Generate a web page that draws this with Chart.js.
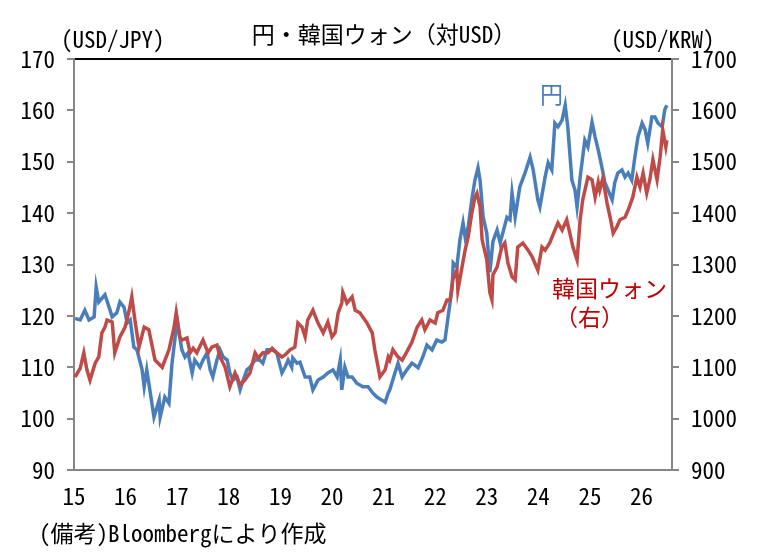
<!DOCTYPE html>
<html lang="ja">
<head>
<meta charset="utf-8">
<script src="https://cdn.jsdelivr.net/npm/chart.js@4.4.1/dist/chart.umd.min.js"></script>
<style>
  html, body { margin: 0; padding: 0; background: #fff; }
  #wrap { position: relative; width: 761px; height: 560px; overflow: hidden; }
  canvas { position: absolute; left: 0; top: 0; }
  .t { position: absolute; white-space: nowrap; line-height: 1; transform: translateY(-50%);
       font-family: "Noto Sans Mono CJK JP", "Noto Sans CJK JP", sans-serif; font-size: 23px; color: #000; }
</style>
</head>
<body>
<div id="wrap">
  <canvas id="c" width="761" height="560"></canvas>
  <div class="t" id="title" style="left:384px; top:33px; transform:translate(-50%,-50%);">円・韓国ウォン（対USD）</div>
  <div class="t" style="left:61px; top:38px;">(USD/JPY)</div>
  <div class="t" style="left:611px; top:38px;">(USD/KRW)</div>
  <div class="t" style="left:540px; top:93px; color:#4a7ebb;">円</div>
  <div class="t" style="left:552px; top:287px; color:#c00000;">韓国ウォン</div>
  <div class="t" style="left:555px; top:316px; color:#c00000;">（右）</div>
  <div class="t" style="left:39px; top:532px;">(備考)Bloombergにより作成</div>
</div>
<script>
// ---- data (x = year, 2-digit, fractional) ----
const jpyDates = [15.02,15.12,15.21,15.29,15.39,15.43,15.48,15.60,15.68,15.74,15.83,15.89,15.97,16.03,16.09,16.16,16.22,16.32,16.36,16.41,16.51,16.55,16.65,16.67,16.76,16.84,16.90,16.96,17.00,17.05,17.09,17.15,17.21,17.29,17.34,17.44,17.50,17.58,17.64,17.69,17.77,17.83,17.89,17.97,18.02,18.08,18.16,18.22,18.28,18.35,18.41,18.51,18.60,18.66,18.74,18.84,18.93,19.03,19.09,19.15,19.22,19.24,19.32,19.38,19.48,19.57,19.63,19.73,19.83,19.92,20.02,20.10,20.16,20.19,20.25,20.31,20.39,20.48,20.60,20.70,20.79,20.87,20.97,21.03,21.09,21.12,21.22,21.28,21.36,21.45,21.55,21.67,21.76,21.84,21.94,22.03,22.13,22.19,22.25,22.33,22.35,22.42,22.48,22.54,22.58,22.64,22.71,22.77,22.83,22.87,22.93,23.00,23.06,23.12,23.20,23.26,23.31,23.39,23.45,23.49,23.55,23.64,23.74,23.84,23.90,23.99,24.03,24.13,24.19,24.26,24.32,24.38,24.46,24.52,24.57,24.65,24.71,24.75,24.81,24.90,24.96,25.04,25.10,25.16,25.23,25.29,25.35,25.43,25.48,25.54,25.62,25.68,25.74,25.81,25.87,25.93,26.01,26.07,26.12,26.20,26.26,26.32,26.40,26.45,26.49];
const jpyValues = [119.5,119.2,121.1,119.2,119.8,125.6,122.7,124.1,121.7,119.8,120.6,122.7,121.7,118.6,119.2,113.9,113.4,109.5,106.2,109.5,103.0,100.3,103.6,100.3,104.2,103.0,110.8,115.9,119.2,115.9,113.4,112.0,112.8,108.9,111.4,110.0,111.4,112.8,109.5,108.1,111.4,113.4,112.0,111.4,108.9,107.5,108.1,105.6,107.5,109.5,110.0,111.4,111.4,110.8,113.4,113.4,112.8,108.9,110.0,111.4,110.0,111.8,110.8,111.0,108.1,108.1,105.6,107.5,108.1,108.9,109.5,108.1,111.4,105.6,110.0,108.1,108.1,106.9,106.2,106.2,105.0,104.2,103.6,103.2,105.0,105.6,108.9,110.8,108.1,109.5,110.8,109.9,112.0,114.3,113.4,115.3,114.9,115.3,119.8,125.6,130.3,129.5,134.8,138.1,135.4,137.3,142.6,146.4,148.8,146.4,139.2,136.1,128.5,134.5,136.7,134.2,136.1,139.2,138.7,143.9,139.2,145.1,147.8,150.9,148.4,142.6,141.2,147.0,149.8,148.4,157.5,156.8,158.1,161.0,156.8,146.4,144.5,141.2,147.0,154.2,152.9,157.7,154.8,152.3,149.0,145.9,144.5,142.6,145.9,147.8,148.4,147.0,147.8,146.4,150.9,154.8,157.5,156.2,153.6,158.7,158.7,157.5,156.8,160.1,161.0];

const krwDates = [15.02,15.12,15.19,15.25,15.31,15.41,15.48,15.54,15.60,15.64,15.74,15.79,15.89,15.99,16.07,16.12,16.18,16.26,16.36,16.45,16.57,16.71,16.84,16.94,16.98,17.05,17.09,17.19,17.25,17.31,17.38,17.50,17.60,17.67,17.77,17.83,17.93,18.02,18.12,18.22,18.31,18.41,18.51,18.57,18.66,18.76,18.84,18.93,19.03,19.09,19.19,19.28,19.34,19.42,19.48,19.53,19.63,19.73,19.83,19.92,20.00,20.06,20.12,20.19,20.21,20.29,20.39,20.45,20.54,20.68,20.78,20.83,20.93,21.03,21.09,21.12,21.18,21.28,21.36,21.45,21.55,21.65,21.74,21.80,21.90,22.00,22.05,22.15,22.23,22.29,22.34,22.42,22.44,22.52,22.58,22.64,22.71,22.77,22.81,22.87,22.91,23.00,23.06,23.10,23.12,23.20,23.29,23.35,23.41,23.49,23.55,23.60,23.70,23.80,23.88,23.93,23.99,24.07,24.13,24.22,24.32,24.38,24.46,24.55,24.61,24.67,24.75,24.81,24.86,24.96,25.04,25.10,25.16,25.19,25.25,25.33,25.39,25.45,25.52,25.58,25.68,25.74,25.83,25.91,25.97,26.03,26.10,26.16,26.22,26.30,26.36,26.41,26.47,26.49];
const krwValues = [1081,1098,1128,1095,1075,1108,1120,1167,1178,1192,1188,1128,1159,1178,1211,1237,1192,1139,1178,1173,1114,1100,1134,1178,1206,1159,1153,1157,1128,1137,1128,1153,1128,1139,1143,1120,1100,1062,1089,1066,1075,1089,1128,1118,1128,1128,1137,1128,1120,1124,1134,1139,1186,1178,1159,1192,1211,1186,1167,1188,1159,1167,1206,1225,1246,1225,1237,1211,1206,1186,1167,1134,1081,1095,1120,1114,1134,1120,1114,1130,1149,1178,1192,1173,1192,1186,1206,1211,1231,1231,1270,1289,1250,1295,1328,1354,1400,1431,1439,1412,1348,1309,1245,1231,1280,1295,1334,1342,1303,1276,1270,1334,1342,1328,1315,1303,1289,1334,1328,1342,1367,1381,1367,1387,1361,1334,1309,1387,1426,1470,1465,1431,1460,1445,1468,1420,1392,1361,1373,1387,1392,1406,1431,1470,1451,1478,1439,1465,1504,1465,1509,1562,1529,1542];

const yearTicks = [15,16,17,18,19,20,21,22,23,24,25,26];
const leftTicks = [90,100,110,120,130,140,150,160,170];
const rightTicks = [900,1000,1100,1200,1300,1400,1500,1600,1700];

const toPts = (xs, ys) => xs.map((x, i) => ({ x: x, y: ys[i] }));

const FONT = "'Noto Sans Mono CJK JP', 'Noto Sans CJK JP', sans-serif";
const AXIS_GRAY = '#868686';

new Chart(document.getElementById('c'), {
  type: 'line',
  data: {
    datasets: [
      { label: '円', data: toPts(jpyDates, jpyValues), yAxisID: 'y', xAxisID: 'x',
        borderColor: '#4a7ebb', borderWidth: 3.5, pointRadius: 0, tension: 0, order: 2 },
      { label: '韓国ウォン（右）', data: toPts(krwDates, krwValues), yAxisID: 'y1', xAxisID: 'x',
        borderColor: '#be4b48', borderWidth: 3.5, pointRadius: 0, tension: 0, order: 1 }
    ]
  },
  options: {
    responsive: false,
    devicePixelRatio: 1,
    animation: false,
    layout: { padding: { top: 59, left: 0, right: 0, bottom: 0 } },
    plugins: { legend: { display: false }, tooltip: { enabled: false }, title: { display: false } },
    scales: {
      x: {
        type: 'linear', position: 'bottom', min: 15, max: 26.59,
        afterBuildTicks: s => { s.ticks = yearTicks.map(v => ({ value: v })); },
        afterFit: s => { s.height = 90; },
        ticks: { font: { family: FONT, size: 23 }, color: '#000', padding: 12, maxRotation: 0, autoSkip: false,
                 callback: v => String(v) },
        grid: { drawOnChartArea: false, drawTicks: false },
        border: { color: AXIS_GRAY, width: 2 }
      },
      x2: {
        type: 'linear', position: 'top', min: 15, max: 26.59,
        afterFit: s => { s.height = 0; },
        ticks: { display: false },
        grid: { drawOnChartArea: false, drawTicks: false },
        border: { color: '#000', width: 2 }
      },
      y: {
        position: 'left', min: 90, max: 170,
        afterBuildTicks: s => { s.ticks = leftTicks.map(v => ({ value: v })); },
        afterFit: s => { s.width = 74; },
        ticks: { font: { family: FONT, size: 23 }, color: '#000', padding: 12, callback: v => String(v) },
        grid: { drawOnChartArea: false, drawTicks: true, tickLength: 7, color: AXIS_GRAY, lineWidth: 2 },
        border: { color: AXIS_GRAY, width: 2 }
      },
      y1: {
        position: 'right', min: 900, max: 1700,
        afterBuildTicks: s => { s.ticks = rightTicks.map(v => ({ value: v })); },
        afterFit: s => { s.width = 89; },
        ticks: { font: { family: FONT, size: 23 }, color: '#000', padding: 12, callback: v => String(v) },
        grid: { drawOnChartArea: false, drawTicks: true, tickLength: 7, color: AXIS_GRAY, lineWidth: 2 },
        border: { color: AXIS_GRAY, width: 2 }
      }
    }
  }
});
</script>
</body>
</html>
